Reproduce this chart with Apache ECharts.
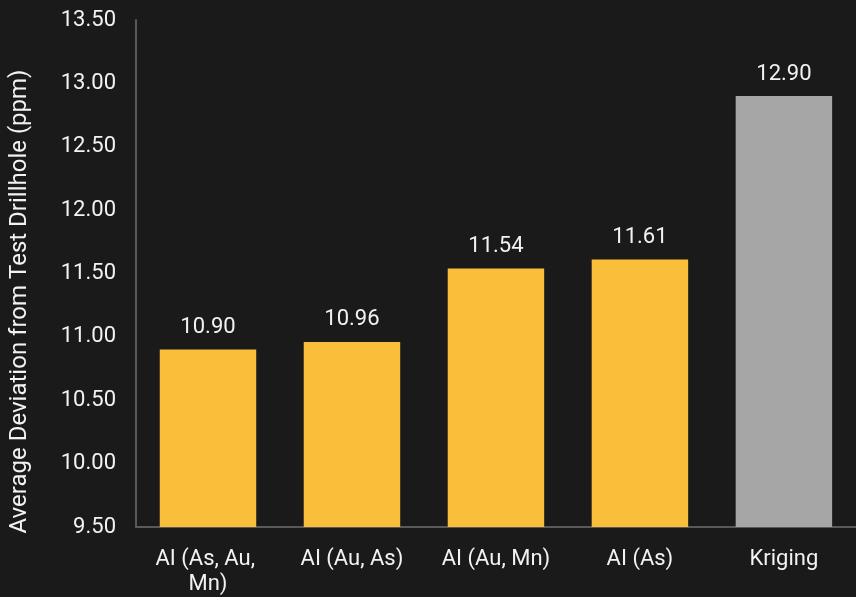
<!DOCTYPE html>
<html><head><meta charset="utf-8">
<script src="https://cdn.jsdelivr.net/npm/echarts@6/dist/echarts.min.js"></script>
<style>html,body{margin:0;padding:0;background:#1a1a1a;}#c{width:856px;height:597px;}</style>
</head><body><div id="c"></div>
<script>
const categories = ["AI (As, Au, Mn)", "AI (Au, As)", "AI (Au, Mn)", "AI (As)", "Kriging"];
const values = [10.90, 10.96, 11.54, 11.61, 12.90];
const barColors = ["#F9BE3A", "#F9BE3A", "#F9BE3A", "#F9BE3A", "#A6A6A6"];
const yMin = 9.5, yMax = 13.5, yStep = 0.5;
const yTitle = "Average Deviation from Test Drillhole (ppm)";

const chart = echarts.init(document.getElementById('c'));
chart.setOption({
  backgroundColor: '#1a1a1a',
  textStyle: {fontFamily: 'Roboto'},
  grid: {left: 132, right: -5, top: 20, bottom: 70, containLabel: false},
  xAxis: {
    type: 'category', data: categories,
    axisLine: {lineStyle: {color: '#595959', width: 2}},
    axisTick: {show: false},
    axisLabel: {color: '#f2f2f2', fontSize: 22, fontFamily: 'Roboto', margin: 20, width: 140, overflow: 'break', lineHeight: 25, interval: 0}
  },
  yAxis: {
    type: 'value', min: yMin, max: yMax, interval: yStep,
    name: yTitle, nameLocation: 'middle', nameGap: 104, nameRotate: 90,
    nameTextStyle: {color: '#f2f2f2', fontSize: 24, fontFamily: 'Roboto', padding: [0, 56, 0, 0]},
    axisLine: {show: true, lineStyle: {color: '#595959', width: 2}},
    axisTick: {show: false},
    splitLine: {show: false},
    axisLabel: {color: '#f2f2f2', fontSize: 22, fontFamily: 'Roboto', margin: 20, formatter: v => v.toFixed(2)}
  },
  series: [{
    type: 'bar', barWidth: '67%',
    data: values.map((v, i) => ({value: v, itemStyle: {color: barColors[i]}})),
    label: {show: true, position: 'top', distance: 11, color: '#f2f2f2', fontSize: 22, fontFamily: 'Roboto', formatter: p => p.value.toFixed(2)}
  }]
});
</script></body></html>
